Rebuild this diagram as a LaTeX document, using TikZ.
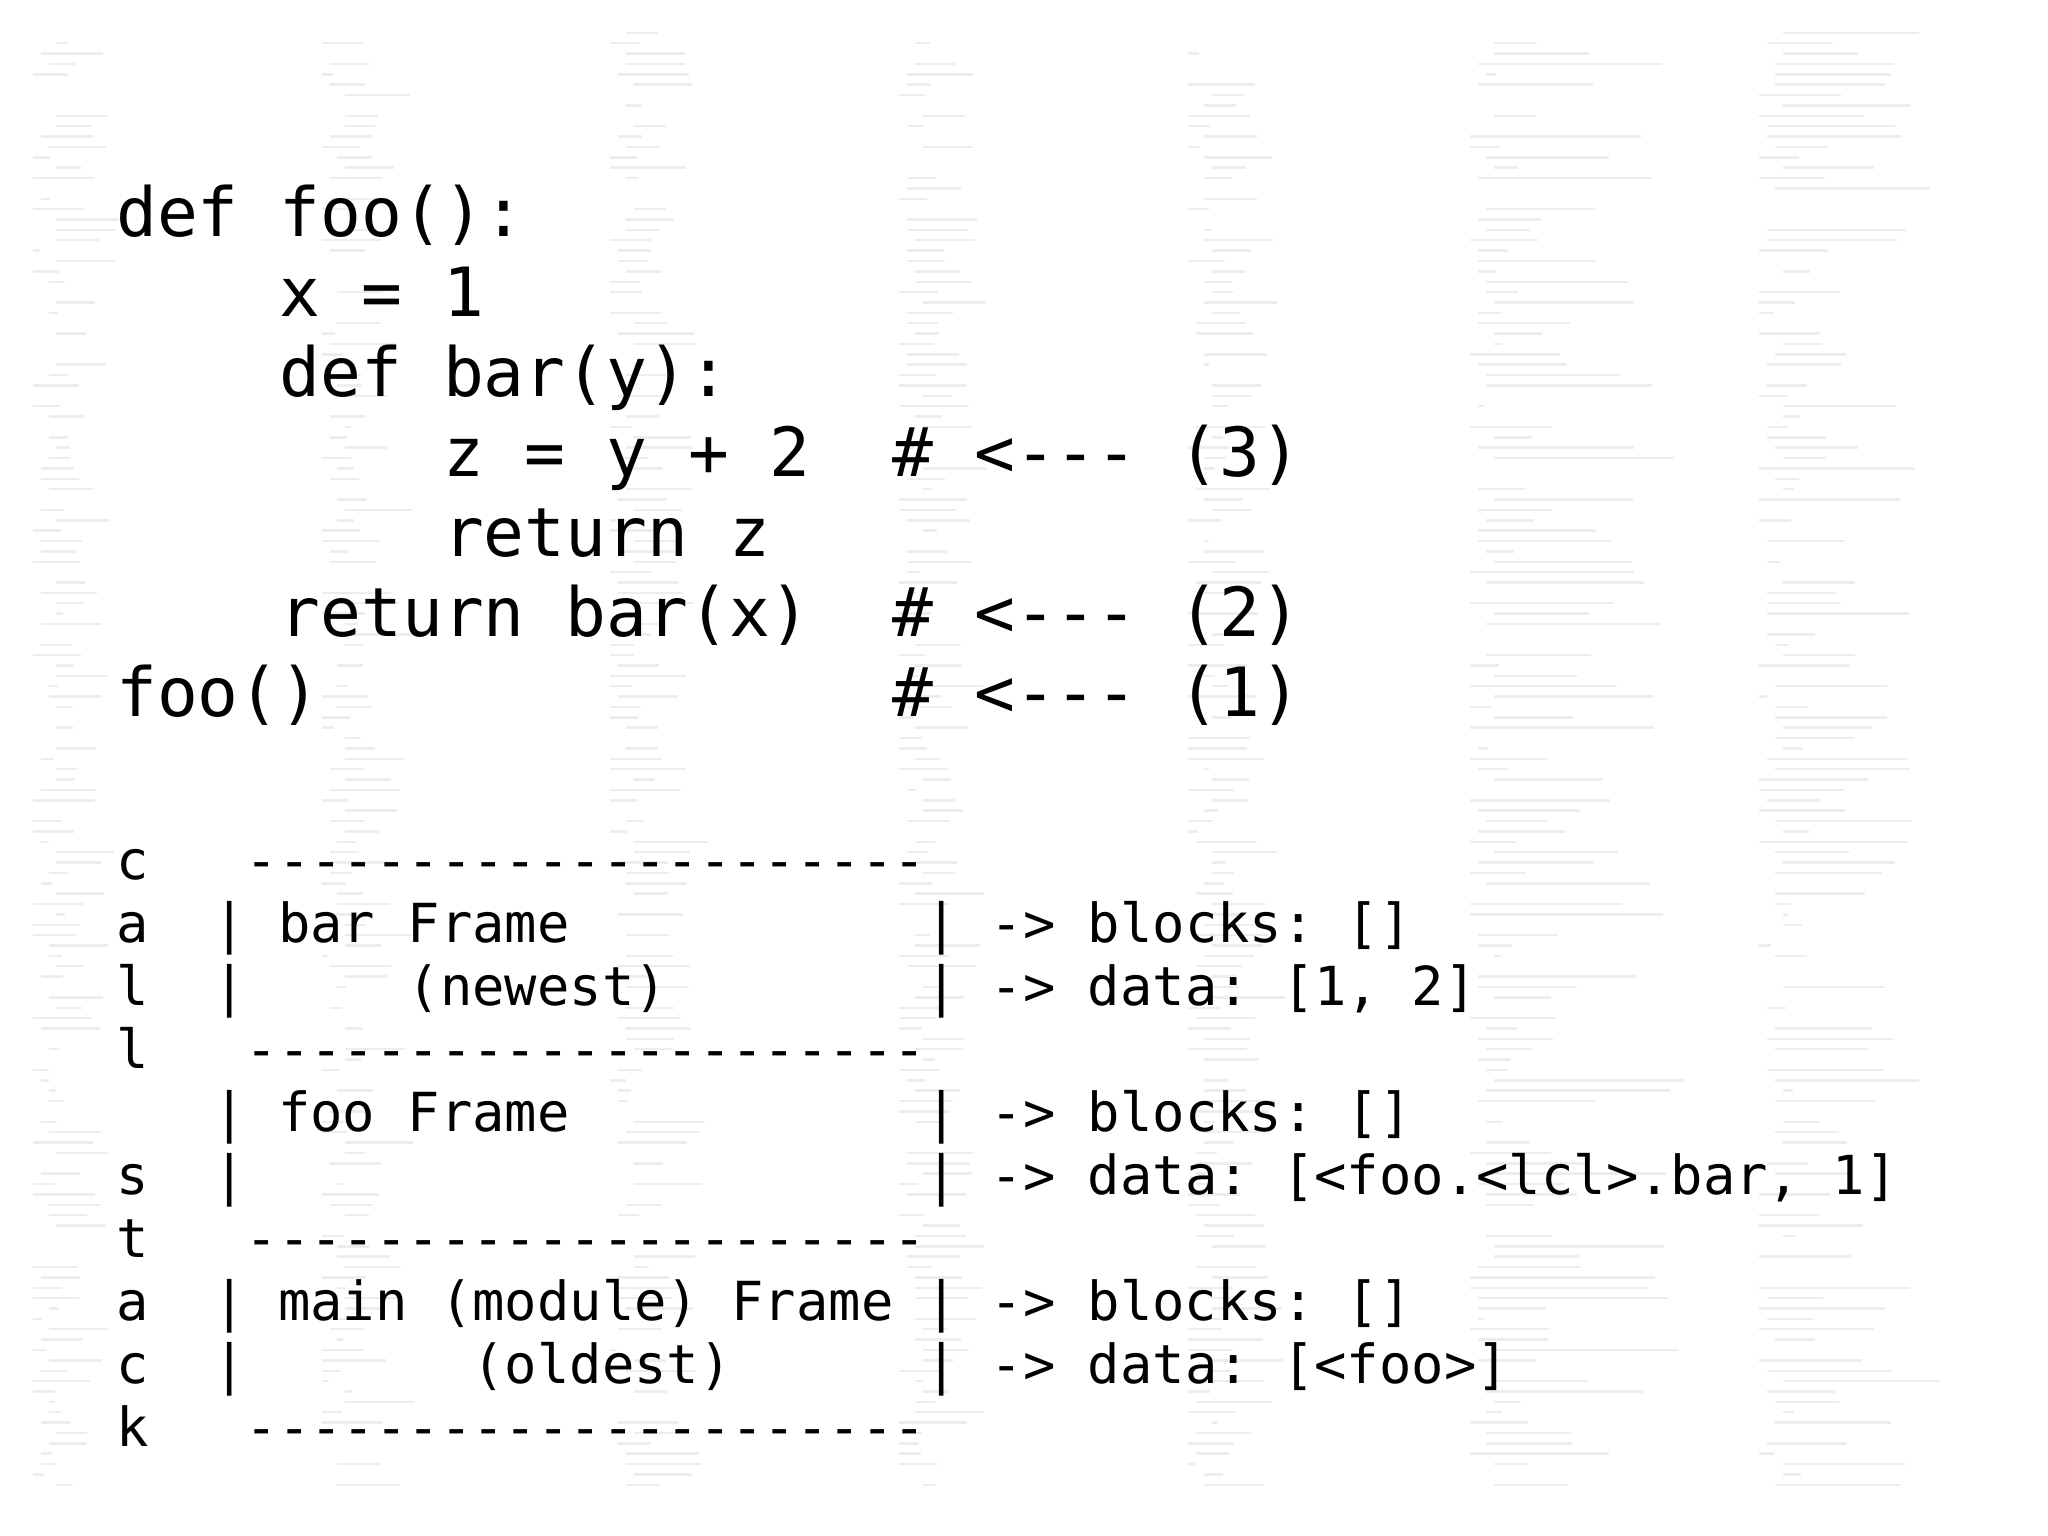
\documentclass[tikz,border=0pt]{standalone}
\usepackage{fontspec}
\setmonofont{DejaVu Sans Mono}
\frenchspacing
\begin{document}
\begin{tikzpicture}[x=0.013128cm,y=-0.013128cm,
  code/.style={anchor=base west,inner sep=0pt,font=\ttfamily\fontsize{19.3}{19.3}\selectfont},
  stk/.style={anchor=base west,inner sep=0pt,font=\ttfamily\fontsize{15.3}{15.3}\selectfont},
  bg/.style={draw=black!7,line width=0.7pt}]
\useasboundingbox (0,0) rectangle (1560,1170);
\fill[white] (0,0) rectangle (1560,1170);
\pgfmathsetseed{7}
\foreach \cx/\cw in {25/50,245/55,465/60,685/55,905/60,1120/160,1340/130}{
  \foreach \r in {0,...,140}{
    \pgfmathsetmacro{\yy}{25+\r*7.9}
    \pgfmathsetmacro{\ind}{int(random(0,3))*6}
    \pgfmathsetmacro{\ll}{rnd*\cw*0.9+4}
    \pgfmathsetmacro{\skip}{rnd}
    \ifdim\skip pt>0.18pt
      \draw[bg] (\cx+\ind,\yy) -- (\cx+\ind+\ll,\yy);
    \fi
  }
}
\node[code] (c1) at (88,180) {def~foo():};
\node[code] (c2) at (88,241) {~~~~x~=~1};
\node[code] (c3) at (88,302) {~~~~def~bar(y):};
\node[code] (c4) at (88,363) {~~~~~~~~z~=~y~+~2~~\#~<-{}-{}-~(3)};
\node[code] (c5) at (88,424) {~~~~~~~~return~z};
\node[code] (c6) at (88,485) {~~~~return~bar(x)~~\#~<-{}-{}-~(2)};
\node[code] (c7) at (88,546) {foo()~~~~~~~~~~~~~~\#~<-{}-{}-~(1)};
\def\dsh{-{}-{}-{}-{}-{}-{}-{}-{}-{}-{}-{}-{}-{}-{}-{}-{}-{}-{}-{}-{}-}
\node[stk] (s1) at (88,670) {c~~~\dsh};
\node[stk] (s2) at (88,718) {a~~|~bar~Frame~~~~~~~~~~~|~->~blocks:~[]};
\node[stk] (s3) at (88,766) {l~~|~~~~~(newest)~~~~~~~~|~->~data:~[1,~2]};
\node[stk] (s4) at (88,814) {l~~~\dsh};
\node[stk] (s5) at (88,862) {~~~|~foo~Frame~~~~~~~~~~~|~->~blocks:~[]};
\node[stk] (s6) at (88,910) {s~~|~~~~~~~~~~~~~~~~~~~~~|~->~data:~[<foo.<lcl>.bar,~1]};
\node[stk] (s7) at (88,958) {t~~~\dsh};
\node[stk] (s8) at (88,1006) {a~~|~main~(module)~Frame~|~->~blocks:~[]};
\node[stk] (s9) at (88,1054) {c~~|~~~~~~~(oldest)~~~~~~|~->~data:~[<foo>]};
\node[stk] (s10) at (88,1102) {k~~~\dsh};
\end{tikzpicture}
\end{document}
